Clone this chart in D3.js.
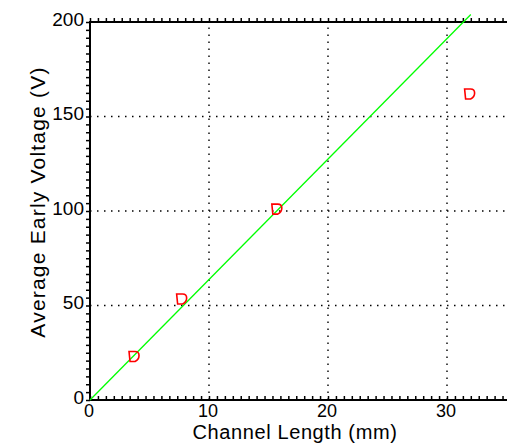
<!DOCTYPE html>
<html>
<head>
<meta charset="utf-8">
<script src="https://cdn.jsdelivr.net/npm/d3@7"></script>
<style>
  body { margin: 0; background: #fff; }
  text { font-family: "Liberation Sans", Arial, sans-serif; fill: #000; }
</style>
</head>
<body>
<div id="chart"></div>
<script>
// data
const channelLength = [3.7, 7.7, 15.7, 31.9];       // mm
const earlyVoltage = [23.0, 53.4, 101, 161.9];       // V
const fitX = [0, 32];
const fitY = [0, 204];

const xTicks = [0, 10, 20, 30];
const yTicks = [0, 50, 100, 150, 200];
const xGrid = [10, 20, 30];
const yGrid = [50, 100, 150];

const width = 507, height = 445;
const margin = { left: 90, top: 22, bottom: 45 };

const svg = d3.select("#chart")
  .append("svg")
  .attr("width", width)
  .attr("height", height);

const xScale = d3.scaleLinear().domain([0, 35]).range([margin.left, 506.5]);
const yScale = d3.scaleLinear().domain([0, 200]).range([height - margin.bottom, margin.top]);

const x0 = xScale(0), x1 = width;
const y0 = yScale(0), y1 = yScale(200);

// dotted grid
svg.append("g")
  .selectAll("line")
  .data(xGrid)
  .enter()
  .append("line")
  .attr("x1", d => xScale(d))
  .attr("x2", d => xScale(d))
  .attr("y1", y0)
  .attr("y2", y1)
  .attr("stroke", "#000")
  .attr("stroke-width", 1.4)
  .attr("stroke-dasharray", "1.5 5.5");

svg.append("g")
  .selectAll("line")
  .data(yGrid)
  .enter()
  .append("line")
  .attr("x1", x0)
  .attr("x2", x1)
  .attr("y1", d => yScale(d))
  .attr("y2", d => yScale(d))
  .attr("stroke", "#000")
  .attr("stroke-width", 1.4)
  .attr("stroke-dasharray", "1.5 5.5");

// axes: minor ticks only, labels drawn separately
const xMinor = d3.range(0, 35.01, 10 / 15);
const yMinor = d3.range(0, 200.01, 50 / 12);

const bottomAxis = svg.append("g")
  .attr("transform", `translate(0, ${y0})`)
  .call(d3.axisTop(xScale).tickValues(xMinor).tickSize(4).tickFormat(""));

const topAxis = svg.append("g")
  .attr("transform", `translate(0, ${y1})`)
  .call(d3.axisTop(xScale).tickValues(xMinor).tickSize(4).tickFormat(""));

const leftAxis = svg.append("g")
  .attr("transform", `translate(${x0}, 0)`)
  .call(d3.axisLeft(yScale).tickValues(yMinor).tickSize(4).tickFormat(""));

[bottomAxis, topAxis, leftAxis].forEach(g => {
  g.select(".domain").remove();
  g.selectAll(".tick line").attr("stroke", "#000").attr("stroke-width", 1.5);
});

// axis lines
svg.append("line")
  .attr("x1", x0 - 1).attr("x2", x1)
  .attr("y1", y0).attr("y2", y0)
  .attr("stroke", "#000").attr("stroke-width", 2);
svg.append("line")
  .attr("x1", x0 - 1).attr("x2", x1)
  .attr("y1", y1).attr("y2", y1)
  .attr("stroke", "#000").attr("stroke-width", 2);
svg.append("line")
  .attr("x1", x0).attr("x2", x0)
  .attr("y1", y1 - 1).attr("y2", y0 + 1)
  .attr("stroke", "#000").attr("stroke-width", 2);

// tick labels
svg.append("g")
  .selectAll("text")
  .data(xTicks)
  .enter()
  .append("text")
  .attr("x", d => xScale(d) - 1)
  .attr("y", y0 + 16.5)
  .attr("text-anchor", "middle")
  .attr("font-size", 18)
  .text(d => d);

svg.append("g")
  .selectAll("text")
  .data(yTicks)
  .enter()
  .append("text")
  .attr("x", x0 - 6)
  .attr("y", d => yScale(d) + 3.5)
  .attr("text-anchor", "end")
  .attr("font-size", 19)
  .text(d => d);

// fit line
const line = d3.line()
  .x(d => xScale(d[0]))
  .y(d => yScale(d[1]));

svg.append("path")
  .datum(d3.zip(fitX, fitY))
  .attr("d", line)
  .attr("fill", "none")
  .attr("stroke", "#00ff00")
  .attr("stroke-width", 1.3);

// markers
const marker = "M-5,-5 H1 Q5,-5 5,-1 Q5,3 1,5 H-4 Z";
svg.append("g")
  .selectAll("path")
  .data(d3.zip(channelLength, earlyVoltage))
  .enter()
  .append("path")
  .attr("transform", d => `translate(${xScale(d[0])}, ${yScale(d[1])})`)
  .attr("d", marker)
  .attr("fill", "none")
  .attr("stroke", "#ff0000")
  .attr("stroke-width", 1.6);

// axis titles
svg.append("text")
  .attr("x", 295)
  .attr("y", 438.5)
  .attr("text-anchor", "middle")
  .attr("font-size", 20)
  .attr("letter-spacing", 0.6)
  .text("Channel Length (mm)");

svg.append("text")
  .attr("transform", "rotate(-90)")
  .attr("x", -202)
  .attr("y", 45)
  .attr("text-anchor", "middle")
  .attr("font-size", 21)
  .attr("letter-spacing", 1.2)
  .text("Average Early Voltage (V)");
</script>
</body>
</html>
